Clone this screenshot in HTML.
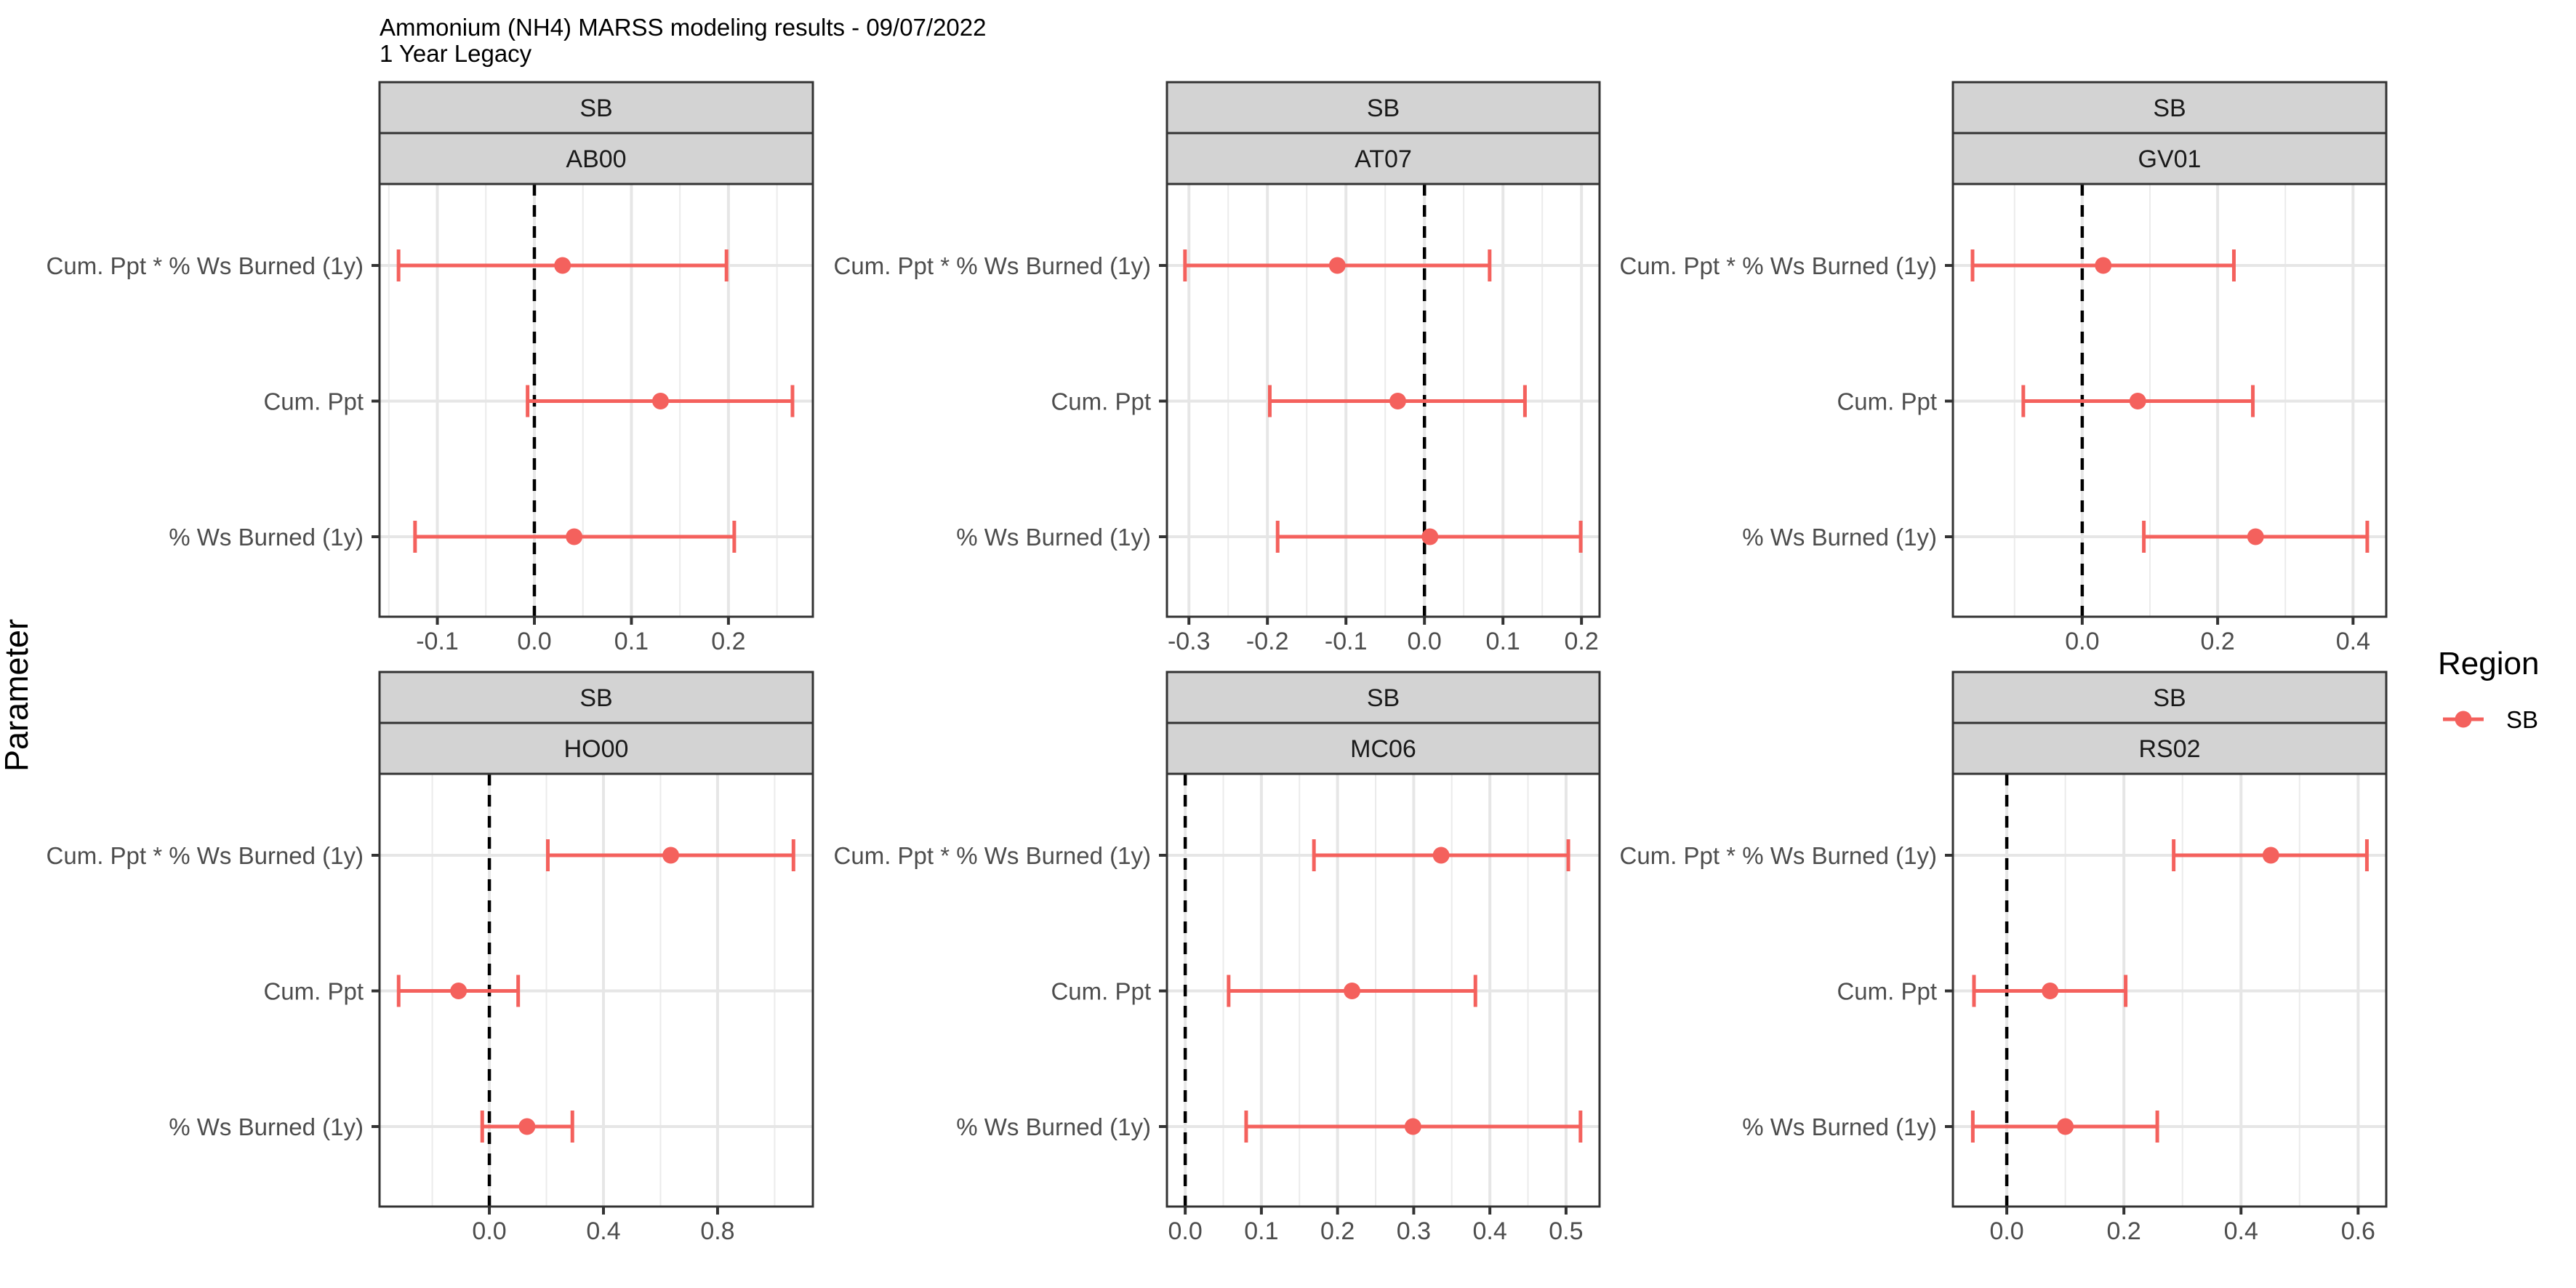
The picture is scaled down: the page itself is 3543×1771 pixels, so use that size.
<!DOCTYPE html>
<html><head><meta charset="utf-8"><style>
html,body{margin:0;padding:0;background:#fff;}
svg{display:block;font-family:"Liberation Sans",Arial,sans-serif;}
</style></head><body>
<svg id="chart" width="3543" height="1771" viewBox="0 0 3543 1771" xmlns="http://www.w3.org/2000/svg">
<rect x="0" y="0" width="3543" height="1771" fill="#fff"/>
<text x="522" y="49" font-size="33" fill="#000">Ammonium (NH4) MARSS modeling results - 09/07/2022</text>
<text x="522" y="85" font-size="33" fill="#000">1 Year Legacy</text>
<text transform="translate(38,956) rotate(-90)" text-anchor="middle" font-size="45" fill="#000">Parameter</text>
<g>
<text x="3353" y="927" font-size="44" fill="#000">Region</text>
<line x1="3360" y1="989" x2="3416" y2="989" stroke="#F4615D" stroke-width="5"/>
<circle cx="3388" cy="989" r="11.5" fill="#F4615D"/>
<text x="3447" y="1001" font-size="33" fill="#000">SB</text>
</g>
<g id="panels"></g>
</svg>
<script>
const sites = ["AB00","AT07","GV01","HO00","MC06","RS02"];
const params = ["Cum. Ppt * % Ws Burned (1y)","Cum. Ppt","% Ws Burned (1y)"];
const estAB00 = [0.029, 0.130, 0.041];
const loAB00 = [-0.140, -0.007, -0.123];
const hiAB00 = [0.198, 0.266, 0.206];
const estAT07 = [-0.111, -0.034, 0.007];
const loAT07 = [-0.305, -0.197, -0.187];
const hiAT07 = [0.083, 0.128, 0.199];
const estGV01 = [0.031, 0.082, 0.256];
const loGV01 = [-0.162, -0.087, 0.091];
const hiGV01 = [0.224, 0.252, 0.421];
const estHO00 = [0.636, -0.108, 0.132];
const loHO00 = [0.205, -0.318, -0.025];
const hiHO00 = [1.066, 0.101, 0.291];
const estMC06 = [0.336, 0.219, 0.299];
const loMC06 = [0.169, 0.057, 0.080];
const hiMC06 = [0.503, 0.381, 0.519];
const estRS02 = [0.451, 0.074, 0.100];
const loRS02 = [0.285, -0.056, -0.058];
const hiRS02 = [0.615, 0.203, 0.257];
const domAB00 = [-0.1596, 0.287];
const domAT07 = [-0.328, 0.223];
const domGV01 = [-0.191, 0.449];
const domHO00 = [-0.385, 1.134];
const domMC06 = [-0.024, 0.544];
const domRS02 = [-0.092, 0.648];
const ticksAB00 = ["-0.1","0.0","0.1","0.2"];
const ticksAT07 = ["-0.3","-0.2","-0.1","0.0","0.1","0.2"];
const ticksGV01 = ["0.0","0.2","0.4"];
const ticksHO00 = ["0.0","0.4","0.8"];
const ticksMC06 = ["0.0","0.1","0.2","0.3","0.4","0.5"];
const ticksRS02 = ["0.0","0.2","0.4","0.6"];

const D = {
 AB00:{est:estAB00,lo:loAB00,hi:hiAB00,dom:domAB00,ticks:ticksAB00},
 AT07:{est:estAT07,lo:loAT07,hi:hiAT07,dom:domAT07,ticks:ticksAT07},
 GV01:{est:estGV01,lo:loGV01,hi:hiGV01,dom:domGV01,ticks:ticksGV01},
 HO00:{est:estHO00,lo:loHO00,hi:hiHO00,dom:domHO00,ticks:ticksHO00},
 MC06:{est:estMC06,lo:loMC06,hi:hiMC06,dom:domMC06,ticks:ticksMC06},
 RS02:{est:estRS02,lo:loRS02,hi:hiRS02,dom:domRS02,ticks:ticksRS02}
};
const NS="http://www.w3.org/2000/svg";
const root=document.getElementById('panels');
function mk(tag,attrs,parent){const e=document.createElementNS(NS,tag);for(const k in attrs)e.setAttribute(k,attrs[k]);(parent||root).appendChild(e);return e;}
const colX=[[522,1118],[1605,2200],[2686,3282]];
const rowY=[113,924];
const RED="#F4615D";
sites.forEach((s,i)=>{
  const d=D[s];
  const [x0,x1]=colX[i%3];
  const top=rowY[Math.floor(i/3)];
  const pTop=top+140, pBot=pTop+595;
  const g=mk('g',{});
  
  
  const xs=v=>x0+(v-d.dom[0])/(d.dom[1]-d.dom[0])*(x1-x0);
  const ys=k=>pTop+112+k*186.5;
  [["SB",top],[s,top+70]].forEach(([t,y],j)=>{
    const r=mk('rect',{x:x0,y:y,width:x1-x0,height:70,fill:"#D3D3D3",stroke:"#333",'stroke-width':3},g);
    
    
    const tx=mk('text',{x:(x0+x1)/2,y:y+47,'text-anchor':'middle','font-size':34,fill:"#1A1A1A"},g);
    tx.textContent=t;
    
    
  });
  mk('rect',{x:x0,y:pTop,width:x1-x0,height:pBot-pTop,fill:"#fff"},g);
  const step=parseFloat(d.ticks[1])-parseFloat(d.ticks[0]);
  const majors=d.ticks.map(parseFloat);
  const minors=[];
  for(let v=majors[0]-step/2; v<=d.dom[1]+1e-9; v+=step){ if(v>=d.dom[0]) minors.push(v); }
  minors.forEach(v=>{mk('line',{x1:xs(v),x2:xs(v),y1:pTop,y2:pBot,stroke:"#EBEBEB",'stroke-width':2},g);});
  majors.forEach(v=>{mk('line',{x1:xs(v),x2:xs(v),y1:pTop,y2:pBot,stroke:"#E6E6E6",'stroke-width':4},g);});
  params.forEach((p,k)=>{mk('line',{x1:x0,x2:x1,y1:ys(k),y2:ys(k),stroke:"#E6E6E6",'stroke-width':4},g);});
  const z=mk('line',{x1:xs(0),x2:xs(0),y1:pTop,y2:pBot,stroke:"#000",'stroke-width':4.5,'stroke-dasharray':"16,13"},g);
  
  
  params.forEach((p,k)=>{
    const y=ys(k);
    const eb=mk('g',{},g);
    
    
    mk('line',{x1:xs(d.lo[k]),x2:xs(d.hi[k]),y1:y,y2:y,stroke:RED,'stroke-width':5},eb);
    mk('line',{x1:xs(d.lo[k]),x2:xs(d.lo[k]),y1:y-22,y2:y+22,stroke:RED,'stroke-width':5},eb);
    mk('line',{x1:xs(d.hi[k]),x2:xs(d.hi[k]),y1:y-22,y2:y+22,stroke:RED,'stroke-width':5},eb);
    const c=mk('circle',{cx:xs(d.est[k]),cy:y,r:11.5,fill:RED},eb);
    
    
    mk('line',{x1:x0-11,x2:x0,y1:y,y2:y,stroke:"#333",'stroke-width':4},g);
    const lt=mk('text',{x:x0-22,y:y+12,'text-anchor':'end','font-size':33,fill:"#4D4D4D"},g);
    lt.textContent=p;
    
    
  });
  mk('rect',{x:x0,y:pTop,width:x1-x0,height:pBot-pTop,fill:"none",stroke:"#333",'stroke-width':3},g);
  d.ticks.forEach(t=>{
    const v=parseFloat(t);
    mk('line',{x1:xs(v),x2:xs(v),y1:pBot,y2:pBot+11,stroke:"#333",'stroke-width':4},g);
    const tt=mk('text',{x:xs(v),y:pBot+45,'text-anchor':'middle','font-size':34,fill:"#4D4D4D"},g);
    tt.textContent=t;
    
    
  });
});
</script>
</body></html>
